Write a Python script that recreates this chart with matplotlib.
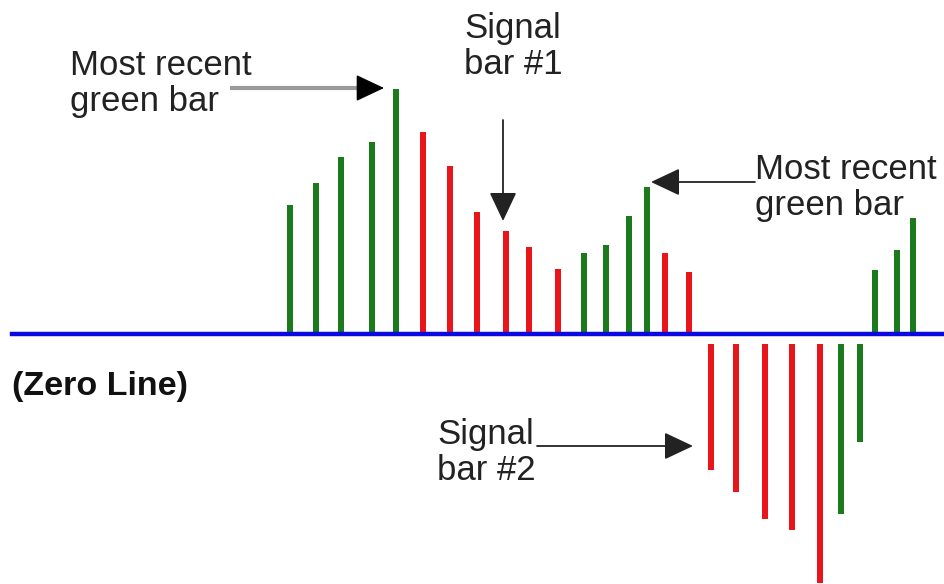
import matplotlib.pyplot as plt

# bar positions and heights (pixel-like units, zero line = 0)
bar_x = [290, 316, 341, 372, 396, 423, 450, 477, 506, 529, 558, 584, 606, 629, 647,
         665, 689, 711, 736, 765, 792, 820, 841, 860, 875, 897, 913]
bar_val = [129, 151, 177, 192, 245, 202, 168, 122, 103, 87, 65, 81, 89, 118, 147,
           81, 62, -136, -158, -185, -196, -249, -180, -108, 64, 84, 116]
bar_col = ['g', 'g', 'g', 'g', 'g', 'r', 'r', 'r', 'r', 'r', 'r', 'g', 'g', 'g', 'g',
           'r', 'r', 'r', 'r', 'r', 'r', 'r', 'g', 'g', 'g', 'g', 'g']

GREEN = '#1b7a1b'
RED = '#e8161b'
BLUE = '#0a0ae0'
TXT = '#222222'

plt.rcParams['font.family'] = ['Liberation Sans', 'DejaVu Sans']

fig = plt.figure(figsize=(9.45, 5.84), dpi=100)
ax = fig.add_axes([0, 0, 1, 1])
ax.set_xlim(0, 945)
ax.set_ylim(-250, 334)
ax.axis('off')

# bars: negatives start a little below the zero line
for x, v, c in zip(bar_x, bar_val, bar_col):
    col = GREEN if c == 'g' else RED
    if v >= 0:
        ax.bar(x, v, width=6.5, bottom=0, color=col, zorder=2)
    else:
        ax.bar(x, v + 10, width=6.5, bottom=-10, color=col, zorder=2)

# zero line
ax.plot([12, 945], [0, 0], color=BLUE, lw=3.2, zorder=3)

fs = 25
ls = 1.12
head = dict(arrowstyle='-|>,head_length=1.8,head_width=0.85', shrinkA=0, shrinkB=0)


def arrow(x0, y0, x1, y1, col='#222222', lw=1.3):
    ax.annotate('', xy=(x1, 334 - y1), xytext=(x0, 334 - y0),
                arrowprops=dict(color=col, lw=lw, **head))


# left "Most recent green bar"
ax.text(70, 334 - 49, 'Most recent\ngreen bar', fontsize=fs, color=TXT,
        va='top', ha='left', linespacing=ls)
ax.plot([230, 362], [334 - 88, 334 - 88], color='#9a9a9a', lw=3, solid_capstyle='butt')
ax.annotate('', xy=(384, 334 - 88), xytext=(358, 334 - 88),
            arrowprops=dict(color='black', lw=1, **head))

# Signal bar #1
ax.text(513, 334 - 12, 'Signal\nbar #1', fontsize=fs, color=TXT,
        va='top', ha='center', linespacing=ls)
arrow(503, 120, 503, 221)

# right "Most recent green bar"
ax.text(755, 334 - 153, 'Most recent\ngreen bar', fontsize=fs, color=TXT,
        va='top', ha='left', linespacing=ls)
arrow(755, 182, 651, 182)

# Zero line label
ax.text(12, 334 - 386, '(Zero Line)', fontsize=24.5, color='#111111',
        fontweight='bold', va='center', ha='left')

# Signal bar #2
ax.text(437, 334 - 418, 'Signal\nbar #2', fontsize=fs, color=TXT,
        va='top', ha='left', linespacing=ls)
arrow(537, 446, 693, 446)

fig.savefig('out.png', dpi=100, facecolor='white')
